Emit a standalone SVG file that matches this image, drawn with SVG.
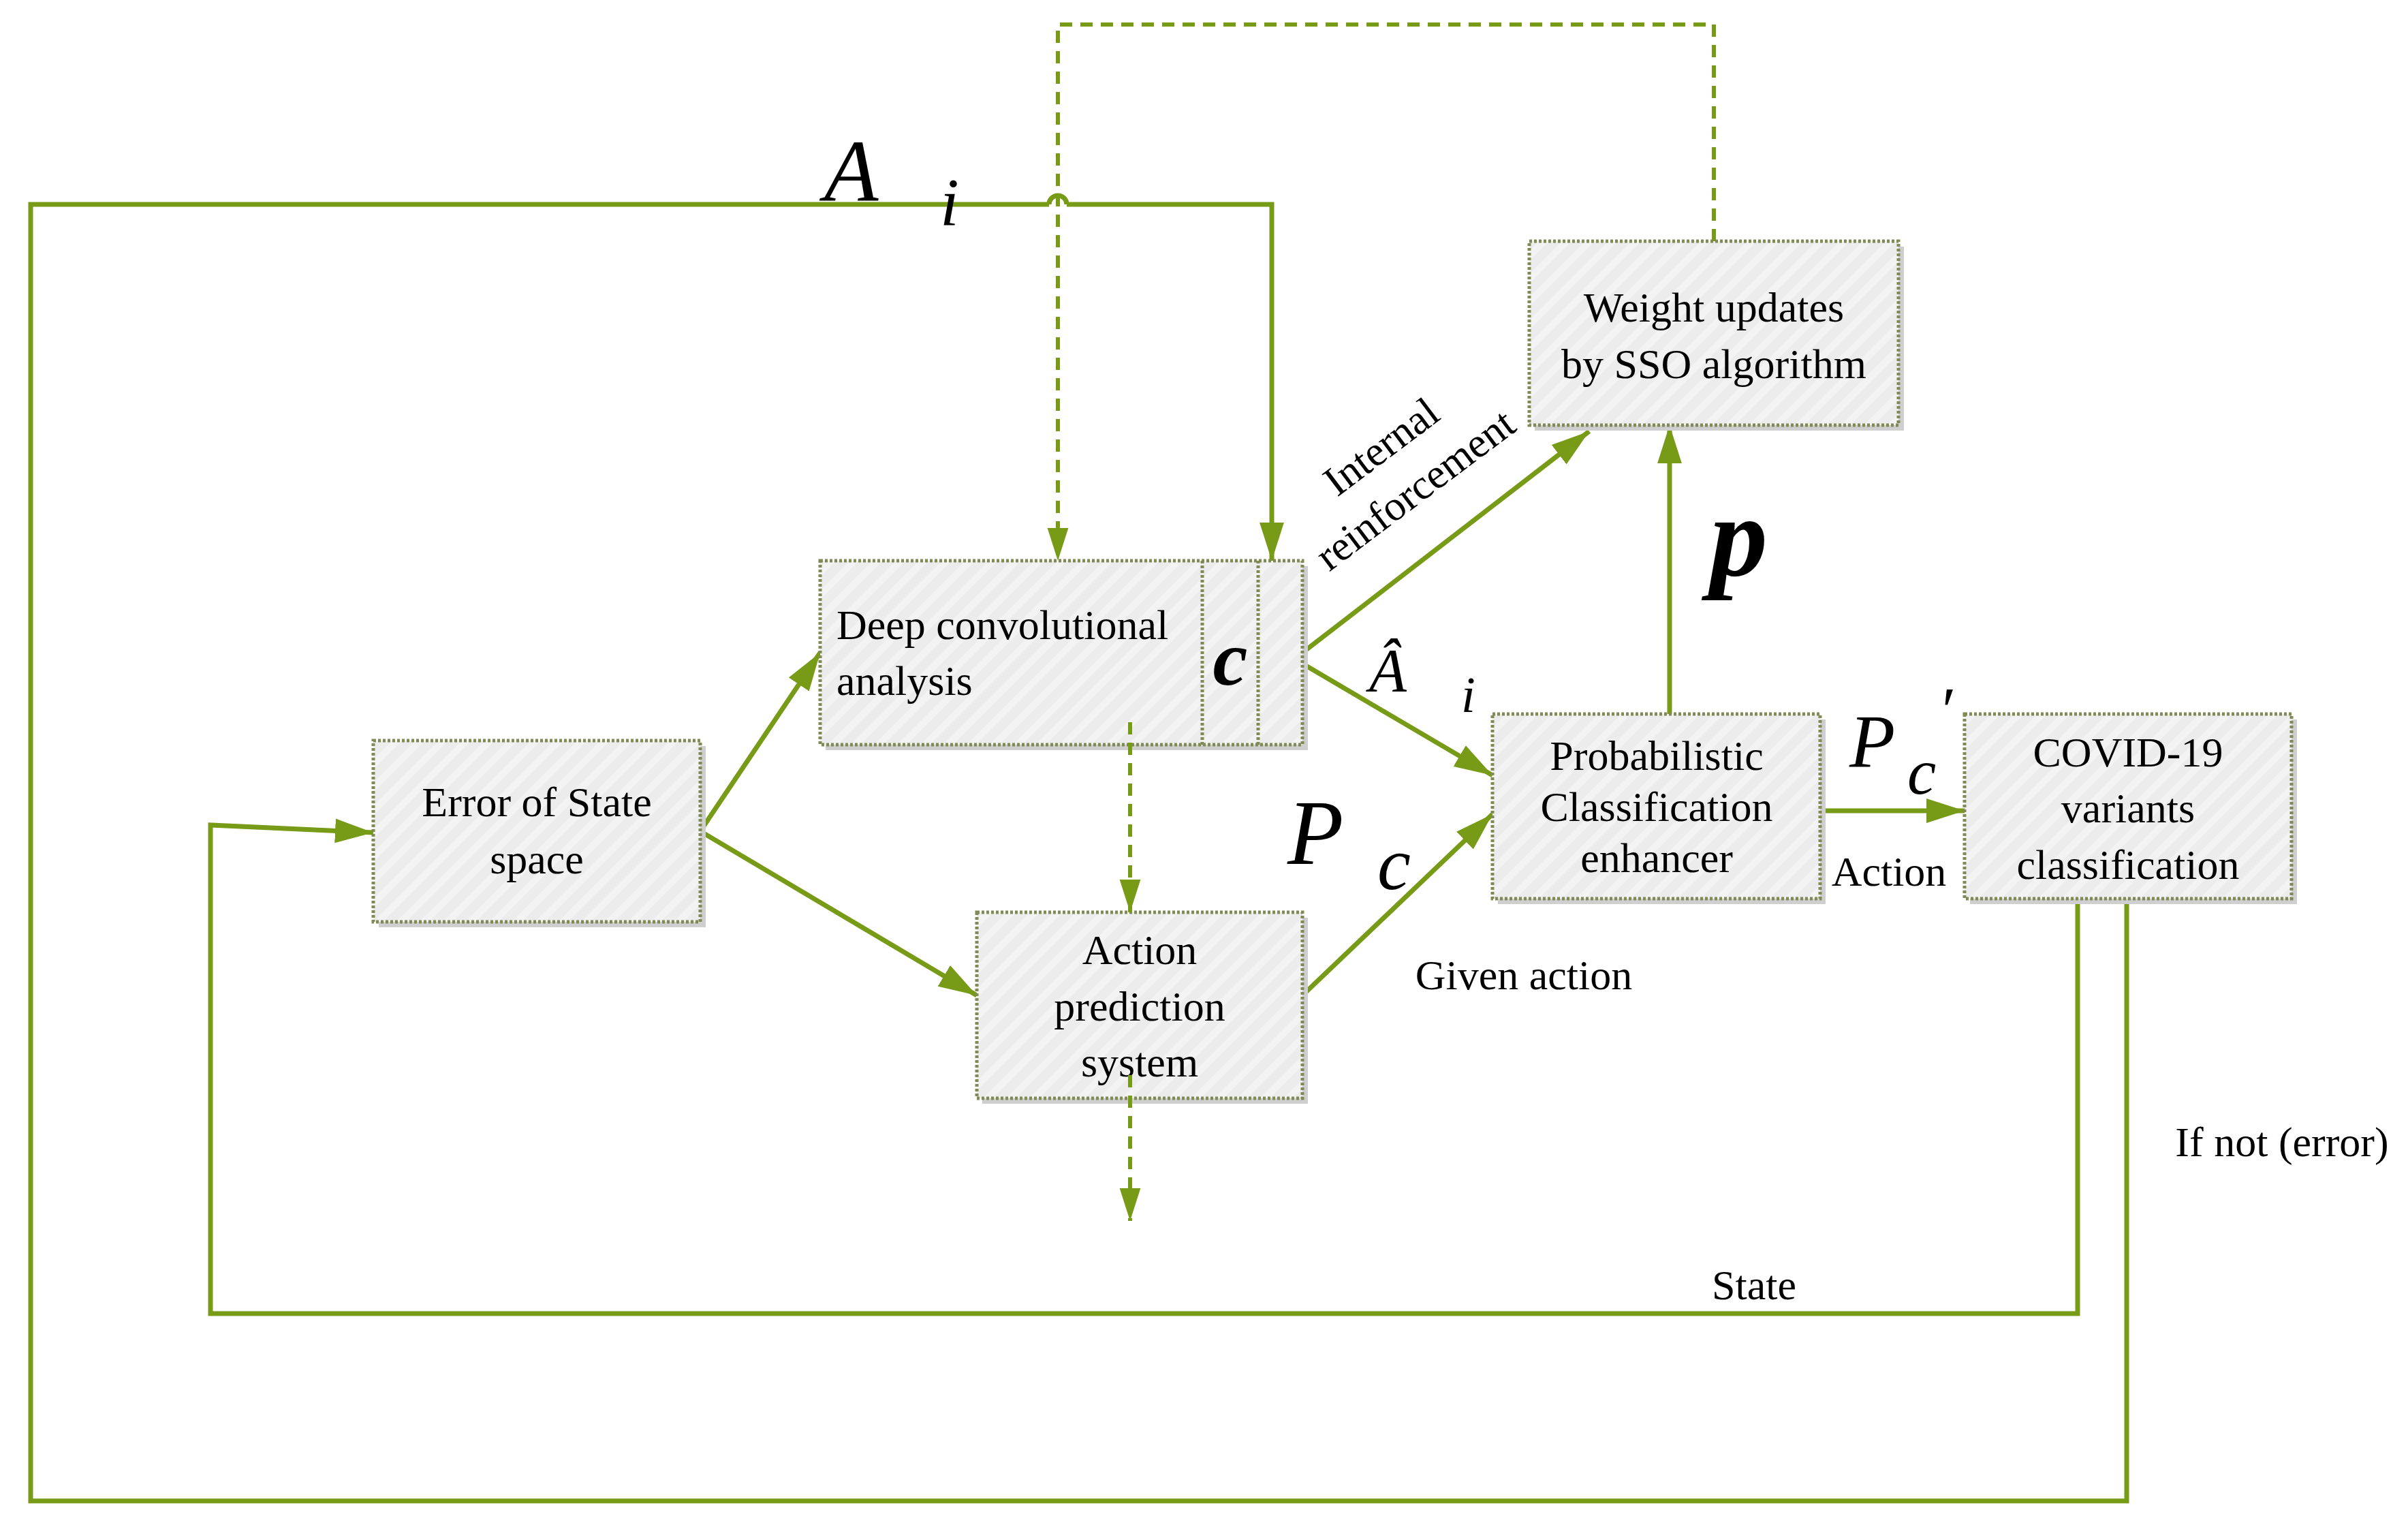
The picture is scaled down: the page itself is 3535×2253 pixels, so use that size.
<svg xmlns="http://www.w3.org/2000/svg" width="3535" height="2253" viewBox="0 0 3535 2253">
<defs>
<pattern id="h" width="24" height="24" patternUnits="userSpaceOnUse" patternTransform="rotate(45)"><rect width="24" height="24" fill="#ececec"/><rect width="10" height="24" fill="#f3f3f3"/></pattern>
<marker id="a" viewBox="0 0 10 10" refX="10" refY="5" markerWidth="8" markerHeight="8" markerUnits="strokeWidth" orient="auto"><path d="M0,1.8 L10,5 L0,8.2 z" fill="#779a17"/></marker>
</defs>
<style>
.b{fill:url(#h);stroke:#7f8a55;stroke-width:5;stroke-dasharray:4 3}
.s{fill:#cfcfcf}
.t{font-family:"Liberation Serif",serif;font-size:62px;fill:#000;text-anchor:middle}
.m{font-family:"Liberation Serif",serif;font-style:italic;fill:#000}
.l{fill:none;stroke:#779a17;stroke-width:7}
.d{fill:none;stroke:#779a17;stroke-width:6;stroke-dasharray:18 12}
</style>
<rect width="3535" height="2253" fill="#fff"/>
<g id="connectors">
<polyline class="l" points="3122,1319 3122,2203 45,2203 45,300 1540,300"/>
<path class="l" d="M1540,300 A13,13 0 0 1 1566,300"/>
<polyline class="l" points="1566,300 1867,300 1867,823" marker-end="url(#a)"/>
<polyline class="d" points="2516,354 2516,36 1553,36 1553,823" marker-end="url(#a)"/>
<polyline class="l" points="3050,1319 3050,1928 309,1928 309,1211 548,1222" marker-end="url(#a)"/>
<line class="l" x1="1028" y1="1220" x2="1204" y2="958" marker-end="url(#a)"/>
<line class="l" x1="1028" y1="1220" x2="1434" y2="1461" marker-end="url(#a)"/>
<line class="l" x1="1912" y1="958" x2="2333" y2="633" marker-end="url(#a)"/>
<line class="l" x1="1912" y1="974" x2="2191" y2="1138" marker-end="url(#a)"/>
<line class="l" x1="1912" y1="1461" x2="2191" y2="1195" marker-end="url(#a)"/>
<line class="l" x1="2451" y1="1048" x2="2451" y2="624" marker-end="url(#a)"/>
<line class="l" x1="2672" y1="1190" x2="2884" y2="1190" marker-end="url(#a)"/>
</g>
<g id="error"><rect class="s" x="556" y="1095" width="480" height="266"/><rect class="b" x="548" y="1087" width="480" height="266"/><text class="t" x="788" y="1198">Error of State</text><text class="t" x="788" y="1282">space</text></g>
<g id="deep"><rect class="s" x="1212" y="831" width="708" height="270"/><rect class="b" x="1204" y="823" width="708" height="270"/><line class="b" x1="1765" y1="823" x2="1765" y2="1093"/><line class="b" x1="1847" y1="823" x2="1847" y2="1093"/><text class="t" x="1228" y="938" style="text-anchor:start">Deep convolutional</text><text class="t" x="1228" y="1020" style="text-anchor:start">analysis</text><text class="m" x="1806" y="1005" font-size="115" font-weight="bold" text-anchor="middle">c</text></g>
<g id="action"><rect class="s" x="1442" y="1347" width="478" height="273"/><rect class="b" x="1434" y="1339" width="478" height="273"/><text class="t" x="1673" y="1415">Action</text><text class="t" x="1673" y="1498">prediction</text><text class="t" x="1673" y="1580">system</text></g>
<g id="weight"><rect class="s" x="2253" y="362" width="542" height="270"/><rect class="b" x="2245" y="354" width="542" height="270"/><text class="t" x="2516" y="472">Weight updates</text><text class="t" x="2516" y="555">by SSO algorithm</text></g>
<g id="prob"><rect class="s" x="2199" y="1056" width="481" height="271"/><rect class="b" x="2191" y="1048" width="481" height="271"/><text class="t" x="2432" y="1130">Probabilistic</text><text class="t" x="2432" y="1205">Classification</text><text class="t" x="2432" y="1280">enhancer</text></g>
<g id="covid"><rect class="s" x="2892" y="1056" width="480" height="271"/><rect class="b" x="2884" y="1048" width="480" height="271"/><text class="t" x="3124" y="1125">COVID-19</text><text class="t" x="3124" y="1207">variants</text><text class="t" x="3124" y="1290">classification</text></g>
<g id="dashed-down">
<line class="d" x1="1659" y1="1060" x2="1659" y2="1339" marker-end="url(#a)"/>
<line class="d" x1="1659" y1="1578" x2="1659" y2="1792" marker-end="url(#a)"/>
</g>
<g id="labels">
<text class="m" x="1210" y="295" font-size="130">A</text>
<text class="m" x="1380" y="330" font-size="100">i</text>
<text class="t" x="2040" y="672" font-size="60" transform="rotate(-37 2040 672)">Internal</text>
<text class="t" x="2090" y="735" font-size="60" transform="rotate(-37 2090 735)">reinforcement</text>
<text class="m" x="2010" y="1015" font-size="90">Â</text>
<text class="m" x="2145" y="1045" font-size="75">i</text>
<text class="m" x="1890" y="1268" font-size="135">P</text>
<text class="m" x="2022" y="1305" font-size="110">c</text>
<text class="m" x="2510" y="845" font-size="170" font-weight="bold">p</text>
<text class="m" x="2715" y="1125" font-size="110">P</text>
<text class="m" x="2800" y="1165" font-size="95">c</text>
<text class="m" x="2845" y="1075" font-size="95">′</text>
<text class="t" x="2773" y="1300">Action</text>
<text class="t" x="2237" y="1452">Given action</text>
<text class="t" x="3350" y="1697">If not (error)</text>
<text class="t" x="2575" y="1907">State</text>
</g>
</svg>
